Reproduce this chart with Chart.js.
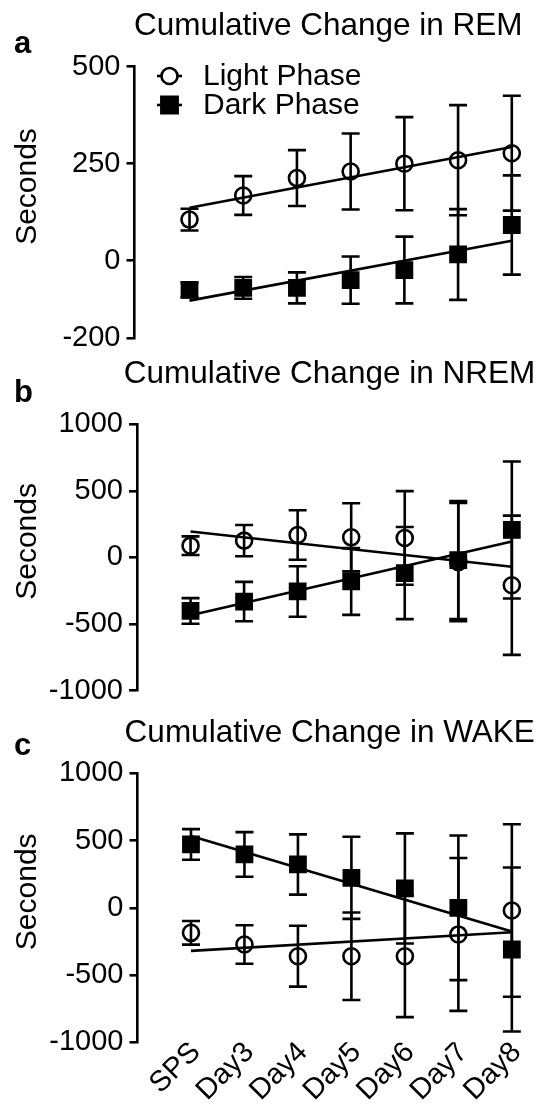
<!DOCTYPE html>
<html>
<head>
<meta charset="utf-8">
<script src="https://cdn.jsdelivr.net/npm/chart.js@4.4.1/dist/chart.umd.min.js"></script>
<style>
  html, body { margin: 0; padding: 0; background: #fff; }
  body { width: 545px; height: 1107px; position: relative; overflow: hidden; }
  canvas { position: absolute; left: 0; }
</style>
</head>
<body>
<canvas id="chartA" width="545" height="370" style="top:0px"></canvas>
<canvas id="chartB" width="545" height="380" style="top:340px"></canvas>
<canvas id="chartC" width="545" height="407" style="top:700px"></canvas>
<script>
// Categories
var days = ['SPS', 'Day3', 'Day4', 'Day5', 'Day6', 'Day7', 'Day8'];

// REM (seconds), mean and error
var remLight = [106, 168, 213, 230, 250, 259, 277];
var remLightErr = [28, 50, 72, 98, 120, 142, 148];
var remDark = [-75, -70, -70, -50, -24, 16, 92];
var remDarkErr = [19, 28, 40, 61, 86, 117, 128];
var remTicks = [500, 250, 0, -200];

// NREM
var nremLight = [88, 126, 168, 151, 146, -35, -209];
var nremLightErr = [70, 117, 186, 256, 352, 445, 523];
var nremDark = [-402, -332, -256, -181, -118, -20, 206];
var nremDarkErr = [96, 148, 190, 251, 346, 443, 515];
var nremTicks = [1000, 500, 0, -500, -1000];

// WAKE
var wakeLight = [-186, -273, -360, -360, -360, -198, -20];
var wakeLightErr = [88, 143, 226, 325, 453, 568, 641];
var wakeDark = [471, 397, 322, 223, 144, 0, -310];
var wakeDarkErr = [114, 166, 224, 305, 409, 538, 610];
var wakeTicks = [1000, 500, 0, -500, -1000];

var FONT = "'Liberation Sans', Arial, Helvetica, sans-serif";
Chart.defaults.font.family = FONT;
Chart.defaults.color = '#000';

// least squares line over the category index
function fitLine(values) {
    var n = values.length, sx = 0, sy = 0, sxy = 0, sxx = 0;
    for (var i = 0; i < n; i++) {
        sx += i; sy += values[i]; sxy += i * values[i]; sxx += i * i;
    }
    var slope = (n * sxy - sx * sy) / (n * sxx - sx * sx);
    var icpt = (sy - slope * sx) / n;
    return [{ x: 0, y: icpt }, { x: n - 1, y: icpt + slope * (n - 1) }];
}

function toPoints(values) {
    return values.map(function (v, i) { return { x: i, y: v }; });
}

// vertical error bars with caps, drawn under the markers
var errorBars = {
    id: 'errorBars',
    beforeDatasetsDraw: function (chart) {
        var ctx = chart.ctx, xs = chart.scales.x, ys = chart.scales.y;
        ctx.save();
        ctx.strokeStyle = '#000';
        ctx.lineWidth = 2.6;
        chart.data.datasets.forEach(function (ds) {
            if (!ds.errors) return;
            ds.data.forEach(function (p, i) {
                var px = xs.getPixelForValue(p.x);
                var top = ys.getPixelForValue(p.y + ds.errors[i]);
                var bot = ys.getPixelForValue(p.y - ds.errors[i]);
                ctx.beginPath();
                ctx.moveTo(px, top); ctx.lineTo(px, bot);
                ctx.moveTo(px - 9, top); ctx.lineTo(px + 9, top);
                ctx.moveTo(px - 9, bot); ctx.lineTo(px + 9, bot);
                ctx.stroke();
            });
        });
        ctx.restore();
    }
};

// panel letter, title, y axis label and (panel a) legend
var panelText = {
    id: 'panelText',
    afterDraw: function (chart, args, opts) {
        var ctx = chart.ctx, area = chart.chartArea;
        ctx.save();
        ctx.fillStyle = '#000';
        ctx.textBaseline = 'alphabetic';

        ctx.font = 'bold 31px ' + FONT;
        ctx.textAlign = 'left';
        ctx.fillText(opts.letter, 14, opts.letterY);

        ctx.font = '31.5px ' + FONT;
        ctx.textAlign = 'center';
        ctx.fillText(opts.title, (area.left + area.right) / 2, opts.titleY);

        ctx.save();
        ctx.translate(28, (area.top + area.bottom) / 2 - 16);
        ctx.rotate(-Math.PI / 2);
        ctx.textBaseline = 'middle';
        ctx.font = '30px ' + FONT;
        ctx.fillText('Seconds', 0, 0);
        ctx.restore();

        if (opts.legend) {
            ctx.strokeStyle = '#000';
            ctx.lineWidth = 2.6;
            opts.legend.forEach(function (item, k) {
                var y = 76 + k * 29;
                ctx.beginPath();
                ctx.moveTo(157, y); ctx.lineTo(182, y);
                ctx.stroke();
                ctx.fillStyle = item.fill;
                Chart.helpers.drawPoint(ctx, {
                    pointStyle: item.style, radius: item.radius,
                    borderWidth: item.borderWidth, rotation: 0
                }, 169.5, y);
                ctx.fillStyle = '#000';
                ctx.font = '30px ' + FONT;
                ctx.textAlign = 'left';
                ctx.textBaseline = 'middle';
                ctx.fillText(item.text, 203, y + 1);
            });
        }
        ctx.restore();
    }
};

function makePanel(canvasId, light, lightErr, dark, darkErr, yTicks, cfg) {
    var lo = yTicks[yTicks.length - 1], hi = yTicks[0];
    return new Chart(document.getElementById(canvasId), {
        type: 'scatter',
        data: {
            datasets: [
                {
                    label: 'Light fit', type: 'line', data: fitLine(light),
                    borderColor: '#000', borderWidth: 2.6, pointRadius: 0, clip: false
                },
                {
                    label: 'Dark fit', type: 'line', data: fitLine(dark),
                    borderColor: '#000', borderWidth: 2.6, pointRadius: 0, clip: false
                },
                {
                    label: 'Light Phase', data: toPoints(light), errors: lightErr,
                    pointStyle: 'circle', pointRadius: 8, borderWidth: 2.6,
                    borderColor: '#000', backgroundColor: 'rgba(0,0,0,0)', clip: false
                },
                {
                    label: 'Dark Phase', data: toPoints(dark), errors: darkErr,
                    pointStyle: 'rect', pointRadius: 11.5, borderWidth: 1.5,
                    borderColor: '#000', backgroundColor: '#000', clip: false
                }
            ]
        },
        options: {
            responsive: false,
            animation: false,
            devicePixelRatio: 1,
            layout: { padding: { top: cfg.top, bottom: cfg.bottom, left: 0, right: 23 } },
            plugins: {
                legend: { display: false },
                tooltip: { enabled: false },
                panelText: {
                    letter: cfg.letter, letterY: cfg.letterY,
                    title: cfg.title, titleY: cfg.titleY, legend: cfg.legend
                }
            },
            scales: {
                x: {
                    type: 'linear',
                    display: cfg.showX,
                    min: cfg.xMin, max: 6.19,
                    grid: { display: false },
                    border: { display: false },
                    afterBuildTicks: function (scale) {
                        scale.ticks = days.map(function (d, i) { return { value: i }; });
                    },
                    afterFit: function (scale) { if (cfg.xHeight) scale.height = cfg.xHeight; },
                    ticks: {
                        autoSkip: false,
                        maxRotation: 45, minRotation: 45,
                        padding: -15,
                        labelOffset: 5,
                        font: { size: 29 },
                        color: '#000',
                        callback: function (v) { return days[v]; }
                    }
                },
                y: {
                    min: lo, max: hi,
                    afterBuildTicks: function (scale) {
                        scale.ticks = yTicks.map(function (v) { return { value: v }; });
                    },
                    afterFit: function (scale) { scale.width = cfg.axisX; },
                    grid: {
                        drawOnChartArea: false, drawTicks: true, tickLength: 8,
                        color: '#000', lineWidth: 2.6
                    },
                    border: { color: '#000', width: 2.6 },
                    ticks: {
                        font: { size: 29 }, color: '#000', padding: 6,
                        callback: function (v) { return String(v); }
                    }
                }
            }
        },
        plugins: [errorBars, panelText]
    });
}

makePanel('chartA', remLight, remLightErr, remDark, remDarkErr, remTicks, {
    letter: 'a', letterY: 53, title: 'Cumulative Change in REM', titleY: 35,
    top: 66.7, bottom: 31.7, axisX: 134.5, xMin: -1.024, showX: false,
    legend: [
        { text: 'Light Phase', style: 'circle', radius: 8, borderWidth: 2.6, fill: '#fff' },
        { text: 'Dark Phase', style: 'rect', radius: 11.5, borderWidth: 1.5, fill: '#000' }
    ]
});

makePanel('chartB', nremLight, nremLightErr, nremDark, nremDarkErr, nremTicks, {
    letter: 'b', letterY: 62, title: 'Cumulative Change in NREM', titleY: 43,
    top: 84.3, bottom: 29.5, axisX: 137, xMin: -1.0, showX: false
});

makePanel('chartC', wakeLight, wakeLightErr, wakeDark, wakeDarkErr, wakeTicks, {
    letter: 'c', letterY: 55, title: 'Cumulative Change in WAKE', titleY: 42,
    top: 73.3, bottom: 0, axisX: 137.5, xMin: -1.0, showX: true, xHeight: 64.7
});
</script>
</body>
</html>
